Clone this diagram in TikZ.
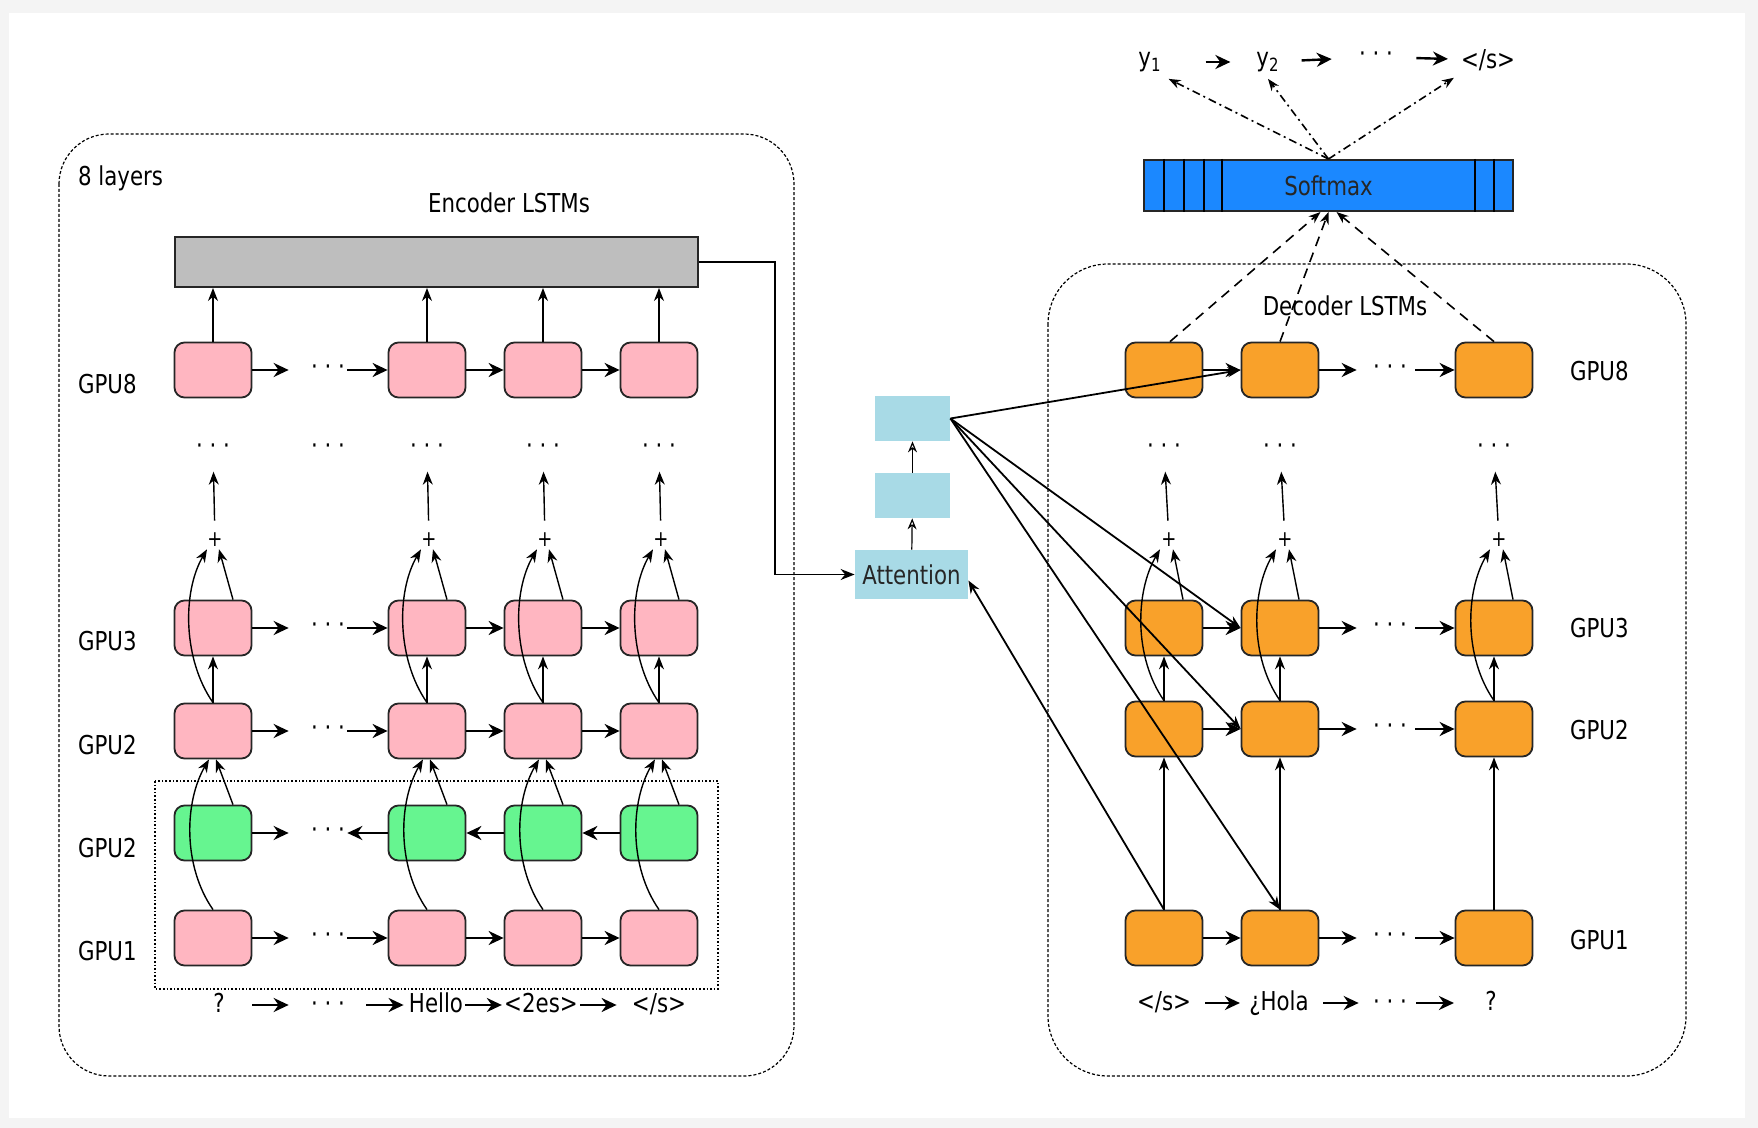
\documentclass[tikz,border=0pt]{standalone}
\usepackage{fontspec}
\setmainfont{DejaVu Sans}[FakeStretch=0.82]
\usetikzlibrary{arrows.meta}
\definecolor{encpink}{HTML}{FFB6C1}
\definecolor{encgreen}{HTML}{66F590}
\definecolor{decorange}{HTML}{F9A12A}
\definecolor{smblue}{HTML}{1B88FF}
\definecolor{attblue}{HTML}{A8DAE6}
\definecolor{bargray}{HTML}{BEBEBE}
\definecolor{framegray}{HTML}{F4F4F4}

\begin{document}
\begin{tikzpicture}[x=0.5pt,y=-0.5pt,font=\fontsize{13}{15}\selectfont,
                    cell/.style={draw=black!85,line width=0.9pt,rounded corners=5pt,minimum width=38.5pt,minimum height=27.5pt,inner sep=0pt},
                    enc/.style={cell,fill=encpink},
                    bwd/.style={cell,fill=encgreen},
                    dec/.style={cell,fill=decorange},
                    attbox/.style={fill=attblue,inner sep=0pt,minimum width=37.5pt,minimum height=22.5pt,text=black!85},
                    hop/.style={-{Stealth[length=7.5pt,width=7pt]},line width=1.2pt},
                    vup/.style={-{Stealth[length=6.5pt,width=5pt]},line width=0.7pt},
                    opn/.style={-{Stealth[open,length=5.5pt,width=4.5pt]},line width=0.6pt},
                    attline/.style={-{Stealth[length=6.5pt,width=5pt]},line width=0.9pt},
                    word/.style={inner sep=1pt,text height=9.5pt,text depth=2.5pt},
                    hdots/.style={inner sep=1pt},
                    plusnode/.style={inner sep=1pt,font=\fontsize{11}{12}\selectfont},
                    lbl/.style={anchor=west},
                    layerframe/.style={dash pattern=on 1.5pt off 1pt,line width=0.6pt,rounded corners=25pt}]
      % page
      \fill[framegray] (0,0) rectangle (1758,1128);
      \fill[white] (9,13) rectangle (1745,1118);
      \useasboundingbox (0,0) rectangle (1758,1128);

      % frames
      \draw[layerframe] (59,134) rectangle (794,1076);
      \draw[layerframe,rounded corners=30pt] (1048,264) rectangle (1686,1076);
      \draw[densely dotted,line width=0.8pt] (155,781) rectangle (718,989);

      \node[anchor=west] (nlayers) at (71,178) {8 layers};
      \node (enctitle) at (509,203) {Encoder LSTMs};
      \node (dectitle) at (1345,306) {Decoder LSTMs};

      % encoder
      \node[draw=black!85,line width=1pt,fill=bargray,minimum width=261.5pt,minimum height=25pt,inner sep=0pt] (bar) at (436.5,262) {};

      \foreach \x [count=\i] in {213,427,543,659} {
        \node[enc] (e8-\i) at (\x,370) {};
        \node[enc] (e3-\i) at (\x,628) {};
        \node[enc] (e2-\i) at (\x,731) {};
        \node[bwd] (eb-\i) at (\x,833) {};
        \node[enc] (e1-\i) at (\x,938) {};
        \node[plusnode] (ep-\i) at (\x+2,540) {+};
        \node[hdots] (ed-\i) at (\x,449) {· · ·};
        \draw[vup] (e8-\i) -- (e8-\i |- bar.south);
        \draw[vup,shorten <=5pt,shorten >=7.5pt] (ep-\i) -- (ed-\i);
        \draw[vup] (e2-\i) -- (e3-\i);
        \draw[vup] (e2-\i.north) .. controls +(-30,-43) and +(-25,43) .. ([xshift=-4pt]ep-\i.south);
        \draw[vup] ([xshift=10pt]e3-\i.north) -- ([xshift=2pt]ep-\i.south);
        \draw[vup] (e1-\i.north) .. controls +(-30,-43) and +(-25,43) .. ([xshift=-2pt]e2-\i.south);
        \draw[vup] ([xshift=10pt]eb-\i.north) -- ([xshift=1.5pt]e2-\i.south);
      }
      \node[hdots] (ed-x) at (328,449) {· · ·};

      \foreach \r/\y in {8/370,3/628,2/731,1/938} {
        \node[hdots] (e\r-m) at (328,\y) {· · ·};
        \draw[hop,shorten >=10pt] (e\r-1) -- (e\r-m);
        \draw[hop] (e\r-m) -- (e\r-2);
        \draw[hop] (e\r-2) -- (e\r-3);
        \draw[hop] (e\r-3) -- (e\r-4);
      }
      \node[hdots] (eb-m) at (328,833) {· · ·};
      \draw[hop,shorten >=10pt] (eb-1) -- (eb-m);
      \draw[hop] (eb-2) -- (eb-m);
      \draw[hop] (eb-3) -- (eb-2);
      \draw[hop] (eb-4) -- (eb-3);

      \foreach \t/\y [count=\i] in {GPU8/384,GPU3/641,GPU2/745,GPU2/848,GPU1/951}
        \node[lbl] (el-\i) at (71,\y) {\t};

      \node[word] (ew-1) at (219,1005) {?};
      \node[word] (ew-m) at (328,1005) {· · ·};
      \node[word] (ew-2) at (436,1005) {Hello};
      \node[word] (ew-3) at (541,1005) {<2es>};
      \node[word] (ew-4) at (659,1005) {</s>};
      \draw[hop,shorten <=12.5pt,shorten >=10pt] (ew-1) -- (ew-m);
      \draw[hop,shorten <=9.5pt,shorten >=1.5pt] (ew-m) -- (ew-2);
      \draw[hop] (ew-2) -- (ew-3);
      \draw[hop,shorten >=6.5pt] (ew-3) -- (ew-4);

      % attention
      \node[attbox,minimum width=56.5pt,minimum height=24.5pt] (att1) at (911.5,574.5) {Attention};
      \node[attbox] (att2) at (912.5,495.5) {};
      \node[attbox] (att3) at (912.5,418.5) {};
      \draw[opn] (att1) -- (att2);
      \draw[opn] (att2) -- (att3);
      \coordinate (ebend) at (775,262);
      \draw[line width=0.8pt,-{Stealth[length=7pt,width=5.5pt]}] (bar.east) -- (ebend) |- (att1.west);

      % decoder
      \foreach \x [count=\i] in {1164,1280,1494} {
        \node[dec] (d8-\i) at (\x,370) {};
        \node[dec] (d3-\i) at (\x,628) {};
        \node[dec] (d2-\i) at (\x,729) {};
        \node[dec] (d1-\i) at (\x,938) {};
        \node[plusnode] (dp-\i) at (\x+5,540) {+};
        \node[hdots] (dd-\i) at (\x,449) {· · ·};
        \draw[vup,shorten <=5pt,shorten >=7.5pt] (dp-\i) -- (dd-\i);
        \draw[vup] (d1-\i) -- (d2-\i);
        \draw[vup] (d2-\i) -- (d3-\i);
        \draw[vup] (d2-\i.north) .. controls +(-30,-43) and +(-25,43) .. ([xshift=-4.5pt]dp-\i.south);
        \draw[vup] ([xshift=9.5pt]d3-\i.north) -- ([xshift=2pt]dp-\i.south);
      }
      \foreach \r/\y in {8/370,3/628,2/729,1/938} {
        \node[hdots] (d\r-m) at (1390,\y) {· · ·};
        \draw[hop] (d\r-1) -- (d\r-2);
        \draw[hop,shorten >=7pt] (d\r-2) -- (d\r-m);
        \draw[hop,shorten <=3pt] (d\r-m) -- (d\r-3);
      }
      \foreach \t/\y [count=\i] in {GPU8/371,GPU3/628,GPU2/730,GPU1/940}
        \node[lbl] (dl-\i) at (1563,\y) {\t};

      \node[word] (dw-1) at (1164,1003) {</s>};
      \node[word] (dw-2) at (1279,1003) {¿Hola};
      \node[word] (dw-m) at (1390,1003) {· · ·};
      \node[word] (dw-3) at (1491,1003) {?};
      \draw[hop,shorten <=6pt,shorten >=3.5pt] (dw-1) -- (dw-2);
      \draw[hop,shorten <=6pt,shorten >=6pt] (dw-2) -- (dw-m);
      \draw[hop,shorten <=3.5pt,shorten >=14.5pt] (dw-m) -- (dw-3);

      \foreach \t in {d8-2.west,d3-2.west,d2-2.west,d1-2.north}
        \draw[attline] (att3.east) -- (\t);
      \draw[attline] (d1-1.north) -- ([yshift=-3pt]att1.east);

      % softmax
      \node[draw=black!85,line width=1pt,fill=smblue,minimum width=184.5pt,minimum height=25.5pt,inner sep=0pt,text=black!85] (softmax) at (1328.5,185.5) {Softmax};
      \foreach \sx in {1164,1184,1204,1222,1475,1494}
        \draw[line width=0.8pt] (softmax.north -| \sx,0) -- (softmax.south -| \sx,0);
      \draw[dash pattern=on 5pt off 3.5pt,line width=0.8pt,-{Stealth[length=6pt,width=4.5pt]}] ([xshift=3pt]d8-1.north) -- ([xshift=-4pt]softmax.south);
      \draw[dash pattern=on 5pt off 3.5pt,line width=0.8pt,-{Stealth[length=6pt,width=4.5pt]}] (d8-2.north) -- (softmax.south);
      \draw[dash pattern=on 5pt off 3.5pt,line width=0.8pt,-{Stealth[length=6pt,width=4.5pt]}] (d8-3.north) -- ([xshift=4pt]softmax.south);

      \node (y1) at (1150,62) {y\textsubscript{1}};
      \node (y2) at (1268,62) {y\textsubscript{2}};
      \node[hdots] (ydots) at (1376,57) {· · ·};
      \node (yend) at (1488,60) {</s>};
      \draw[hop,shorten <=18.5pt,shorten >=9.5pt] (y1) -- (y2);
      \draw[hop,shorten <=7.5pt,shorten >=12.5pt] (y2) -- (ydots);
      \draw[hop,shorten <=10.5pt,shorten >=3pt] (ydots) -- (yend);
      \foreach \t in {y1.south east,y2.south,yend.south west}
        \draw[dash pattern=on 4pt off 2pt on 1pt off 2pt,line width=0.8pt,-{Stealth[length=6pt,width=4.5pt]}] (softmax.north) -- (\t);
    \end{tikzpicture}
\end{document}
